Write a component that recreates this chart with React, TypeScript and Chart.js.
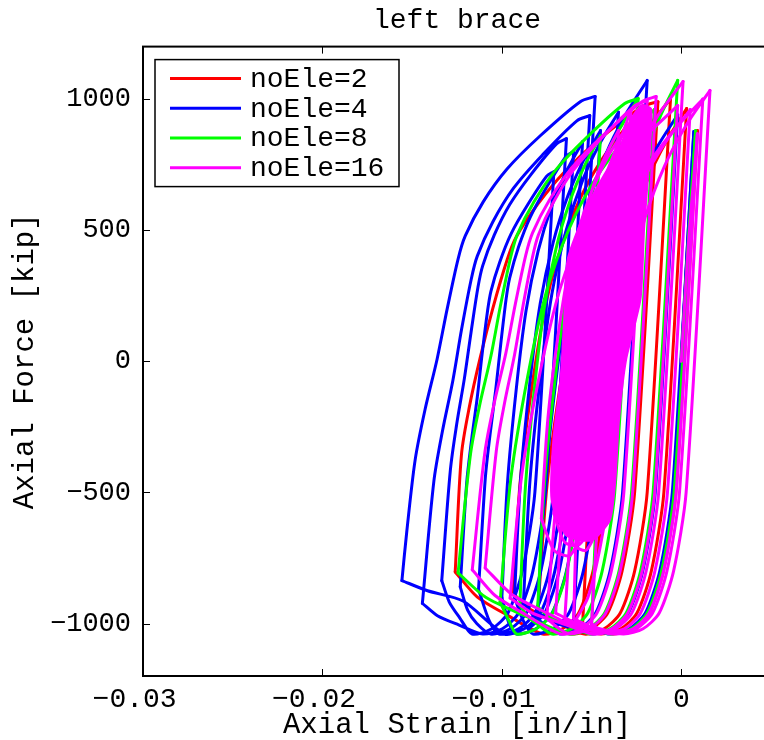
import React, { useEffect, useRef } from 'react';
import { Chart, registerables } from 'chart.js';

Chart.register(...registerables);

const FONT = "'Liberation Mono', 'DejaVu Sans Mono', monospace";

const chartTitle = 'left brace';
const xAxisTitle = 'Axial Strain [in/in]';
const yAxisTitle = 'Axial Force [kip]';
const xTicks = [-0.03, -0.02, -0.01, 0];
const xTickLabels = ['\u22120.03 ', '\u22120.02 ', '\u22120.01 ', '0'];
const yTicks = [-1000, -500, 0, 500, 1000];
const yTickLabels = ['\u22121000', '\u2212500', '0', '500', '1000'];
const seriesLabels = ['noEle=2', 'noEle=4', 'noEle=8', 'noEle=16'];
const seriesColors = ['#ff0000', '#0000ff', '#00ff00', '#ff00ff'];

// [axial strain, axial force]
const redPoints: [number, number][] = [
  [0, 0], [0.0004, 480], [0.0009, 880],
  [-0.0003, -500], [-0.001, -800], [-0.0018, -960], [-0.0027, -1020], [-0.0038, -1040],
  [-0.00448, -1028], [-0.00508, -1016], [-0.0055, -1000],
  [-0.00509, -509], [-0.00446, -97], [-0.00376, 237], [-0.00289, 493], [-0.0019, 689], [-0.00086, 836], [0.0003, 964],
  [-0.00097, -500], [-0.00167, -800], [-0.00247, -960], [-0.00337, -1020], [-0.00447, -1040],
  [-0.00588, -1016], [-0.00712, -992], [-0.008, -960],
  [-0.00748, -470], [-0.00667, -58], [-0.00578, 275], [-0.00467, 530], [-0.00341, 726], [-0.00208, 873], [-0.0006, 1000],
  [-0.0019, -500], [-0.0026, -800], [-0.0034, -960], [-0.0043, -1020], [-0.0054, -1040],
  [-0.007, -993], [-0.0084, -946], [-0.0094, -884],
  [-0.00895, -438], [-0.00825, -63], [-0.00748, 240], [-0.00652, 472], [-0.00543, 650], [-0.00428, 784], [-0.003, 900],
  [-0.00422, -500], [-0.00492, -800], [-0.00572, -960], [-0.00662, -1020], [-0.00772, -1040],
  [-0.00967, -969], [-0.01138, -898], [-0.0126, -803],
  [-0.01225, -355], [-0.0118, -170], [-0.0112, 16], [-0.0105, 203], [-0.0097, 388], [-0.0092, 474],
  [-0.008, 599], [-0.0065, 723], [-0.0046, 845], [-0.0022, 970], [-0.0013, 990],
  [-0.0026, -500], [-0.0033, -800], [-0.0041, -960], [-0.005, -1020], [-0.0061, -1040], [-0.008, -1000],
];

const bluePoints: [number, number][] = [
  [0, 0], [0.00035, 450], [0.0007, 876],
  [-0.0005, -500], [-0.0012, -800], [-0.002, -960], [-0.0029, -1020], [-0.004, -1040],
  [-0.0048, -1025], [-0.0055, -1010], [-0.006, -990],
  [-0.00559, -507], [-0.00496, -102], [-0.00426, 226], [-0.00339, 477], [-0.0024, 670], [-0.00136, 815], [-0.0002, 940],
  [-0.00145, -500], [-0.00215, -800], [-0.00295, -960], [-0.00385, -1020], [-0.00495, -1040],
  [-0.00617, -1016], [-0.00724, -992], [-0.008, -960],
  [-0.00757, -452], [-0.0069, -26], [-0.00617, 320], [-0.00525, 584], [-0.00422, 787], [-0.00312, 939], [-0.0019, 1071],
  [-0.00327, -500], [-0.00397, -800], [-0.00477, -960], [-0.00567, -1020], [-0.00677, -1040],
  [-0.0076, -1005], [-0.0083, -965], [-0.0088, -920],
  [-0.00843, -452], [-0.00785, -60], [-0.00721, 258], [-0.00641, 501], [-0.00551, 688], [-0.00456, 828], [-0.0035, 950],
  [-0.00476, -500], [-0.00546, -800], [-0.00626, -960], [-0.00716, -1020], [-0.00826, -1040],
  [-0.0088, -990], [-0.0093, -900],
  [-0.00896, -455], [-0.00844, -81], [-0.00786, 221], [-0.00714, 453], [-0.00632, 631], [-0.00546, 764], [-0.0045, 880],
  [-0.0057, -500], [-0.0064, -800], [-0.0072, -960], [-0.0081, -1020], [-0.0092, -1040],
  [-0.0096, -1000], [-0.01, -900],
  [-0.00969, -466], [-0.00919, -101], [-0.00865, 194], [-0.00798, 420], [-0.00721, 594], [-0.0064, 724], [-0.0055, 837],
  [-0.00666, -500], [-0.00736, -800], [-0.00816, -960], [-0.00906, -1020], [-0.01016, -1040],
  [-0.0107, -990], [-0.0113, -870],
  [-0.01093, -452], [-0.01066, -280], [-0.01034, -107], [-0.01006, 67], [-0.00976, 239], [-0.00956, 319],
  [-0.00907, 436], [-0.00841, 551], [-0.0075, 665], [-0.00641, 782], [-0.006, 800],
  [-0.00713, -500], [-0.00783, -800], [-0.00863, -960], [-0.00953, -1020], [-0.01063, -1040],
  [-0.0114, -1000], [-0.0119, -950], [-0.01232, -860],
  [-0.01196, -464], [-0.01169, -301], [-0.01137, -137], [-0.0111, 28], [-0.0108, 191], [-0.01061, 267],
  [-0.01012, 378], [-0.00948, 487], [-0.00858, 595], [-0.0075, 706], [-0.0071, 723],
  [-0.00816, -500], [-0.00886, -800], [-0.00966, -960], [-0.01056, -1020], [-0.01166, -1040],
  [-0.01234, -979], [-0.01293, -918], [-0.01335, -836],
  [-0.01287, -415], [-0.01252, -241], [-0.01209, -66], [-0.01172, 109], [-0.01133, 283], [-0.01107, 364],
  [-0.01042, 482], [-0.00956, 598], [-0.00837, 713], [-0.00694, 830], [-0.0064, 849],
  [-0.00757, -500], [-0.00827, -800], [-0.00907, -960], [-0.00997, -1020], [-0.01107, -1040],
  [-0.01241, -1005], [-0.01359, -970], [-0.01443, -923],
  [-0.01379, -458], [-0.01331, -266], [-0.01273, -73], [-0.01225, 120], [-0.01171, 312], [-0.01137, 401],
  [-0.0105, 532], [-0.00935, 660], [-0.00775, 786], [-0.00582, 917], [-0.0051, 937],
  [-0.00635, -500], [-0.00705, -800], [-0.00785, -960], [-0.00875, -1020], [-0.00985, -1040],
  [-0.01214, -915], [-0.01414, -875], [-0.01557, -836],
  [-0.0153, -650], [-0.01483, -375], [-0.01428, -184], [-0.01361, 8], [-0.01305, 199], [-0.01244, 390],
  [-0.01204, 478], [-0.01104, 608], [-0.0097, 734], [-0.00786, 860], [-0.00563, 990], [-0.0048, 1010],
  [-0.00611, -500], [-0.00681, -800], [-0.00761, -960], [-0.00851, -1020],
];

const greenPoints: [number, number][] = [
  [0, 0], [0.0004, 470], [0.0008, 880],
  [-0.0004, -500], [-0.0011, -800], [-0.0019, -960], [-0.0028, -1020], [-0.0039, -1040],
  [-0.0045, -1030], [-0.005, -1010],
  [-0.00466, -490], [-0.00414, -53], [-0.00356, 301], [-0.00284, 572], [-0.00202, 780], [-0.00116, 936], [-0.0002, 1071],
  [-0.00157, -500], [-0.00227, -800], [-0.00307, -960], [-0.00397, -1020], [-0.00507, -1040],
  [-0.00624, -1009], [-0.00727, -978], [-0.008, -937],
  [-0.00761, -452], [-0.00699, -45], [-0.00632, 285], [-0.00548, 537], [-0.00453, 731], [-0.00352, 876], [-0.0024, 1002],
  [-0.00371, -500], [-0.00441, -800], [-0.00521, -960], [-0.00611, -1020], [-0.00721, -1040],
  [-0.00793, -1007], [-0.00855, -974], [-0.009, -930],
  [-0.00869, -482], [-0.00819, -107], [-0.00765, 198], [-0.00698, 430], [-0.00621, 609], [-0.0054, 744], [-0.0045, 860],
  [-0.00568, -500], [-0.00638, -800], [-0.00718, -960], [-0.00808, -1020], [-0.00918, -1040],
  [-0.0096, -990], [-0.0101, -918],
  [-0.0095, -448], [-0.00855, -54], [-0.00752, 265], [-0.00623, 509], [-0.00477, 697], [-0.00322, 838], [-0.0015, 960],
  [-0.00277, -500], [-0.00347, -800], [-0.00427, -960], [-0.00517, -1020], [-0.00627, -1040],
  [-0.00874, -970], [-0.0109, -900], [-0.01244, -807],
  [-0.01175, -355], [-0.01124, -168], [-0.01061, 20], [-0.01009, 208], [-0.00952, 394], [-0.00915, 481],
  [-0.00821, 608], [-0.00697, 732], [-0.00525, 855], [-0.00317, 982], [-0.0024, 1002],
  [-0.00371, -500], [-0.00441, -800], [-0.00521, -960], [-0.00611, -1020], [-0.00721, -1040], [-0.008, -1000],
];

const magentaPoints: [number, number][] = [
  [0, 0], [0.0004, 450], [0.0009, 868],
  [-0.00029, -500], [-0.00099, -800], [-0.00179, -960], [-0.00269, -1020], [-0.00379, -1040],
  [-0.0044, -1030], [-0.005, -1000],
  [-0.00454, -492], [-0.00381, -65], [-0.00302, 281], [-0.00203, 545], [-0.00091, 748], [0.00028, 901], [0.0016, 1033],
  [0.00027, -500], [-0.00043, -800], [-0.00123, -960], [-0.00213, -1020], [-0.00323, -1040],
  [-0.00474, -1016], [-0.00606, -992], [-0.007, -960],
  [-0.0065, -453], [-0.00572, -28], [-0.00487, 317], [-0.0038, 581], [-0.0026, 783], [-0.00132, 935], [0.0001, 1067],
  [-0.00126, -500], [-0.00196, -800], [-0.00276, -960], [-0.00366, -1020], [-0.00476, -1040],
  [-0.00667, -999], [-0.00835, -958], [-0.00954, -903],
  [-0.00889, -433], [-0.00786, -39], [-0.00674, 280], [-0.00534, 524], [-0.00375, 712], [-0.00207, 853], [-0.0002, 975],
  [-0.00148, -500], [-0.00218, -800], [-0.00298, -960], [-0.00388, -1020], [-0.00498, -1040],
  [-0.00736, -964], [-0.00944, -889], [-0.01093, -788],
  [-0.01031, -342], [-0.00985, -159], [-0.00929, 26], [-0.00882, 212], [-0.0083, 395], [-0.00797, 481],
  [-0.00713, 606], [-0.00601, 729], [-0.00446, 850], [-0.0026, 974], [-0.0019, 994],
  [-0.0032, -500], [-0.0039, -800], [-0.0047, -960], [-0.0056, -1020], [-0.0067, -1040],
  [-0.00868, -966], [-0.01038, -893], [-0.01165, -795],
  [-0.01094, -344], [-0.01042, -158], [-0.00978, 30], [-0.00925, 218], [-0.00867, 404], [-0.00829, 490],
  [-0.00733, 617], [-0.00606, 741], [-0.00431, 864], [-0.00219, 990], [-0.0014, 1010],
  [-0.00271, -500], [-0.00341, -800], [-0.00421, -960], [-0.00511, -1020], [-0.00621, -1040],
  [-0.0068, -1020], [-0.0075, -980],
  [-0.00689, -485], [-0.00593, -69], [-0.00489, 267], [-0.00358, 525], [-0.00211, 723], [-0.00054, 871], [0.0012, 1000],
  [-0.0001, -500], [-0.0008, -800], [-0.0016, -960], [-0.0025, -1020], [-0.0036, -1040],
  [-0.005, -1025], [-0.0065, -990],
  [-0.00601, -502], [-0.00524, -93], [-0.0044, 239], [-0.00335, 492], [-0.00216, 687], [-0.0009, 833], [0.0005, 960],
  [-0.00077, -500], [-0.00147, -800], [-0.00227, -960], [-0.00317, -1020],
  [-0.0045, -1030], [-0.006, -980],
  [-0.00578, -495], [-0.00542, -88], [-0.00504, 242], [-0.00456, 494], [-0.00402, 688], [-0.00344, 834], [-0.0028, 960],
  [-0.004, -400], [-0.0046, -620], [-0.0053, -720], [-0.006, -700], [-0.0064, -600],
  [-0.00616, -225], [-0.00579, 90], [-0.00538, 345], [-0.00487, 540], [-0.00429, 690], [-0.00368, 803], [-0.003, 900],
  [-0.0042, -350], [-0.0049, -600], [-0.0057, -700], [-0.0065, -690], [-0.0071, -580],
  [-0.00685, -215], [-0.00645, 92], [-0.00602, 340], [-0.00548, 530], [-0.00487, 676], [-0.00422, 785], [-0.0035, 880],
  [-0.0047, -350], [-0.0054, -620], [-0.0062, -740], [-0.0071, -720], [-0.0078, -600],
  [-0.00743, -215], [-0.00685, 108], [-0.00621, 370], [-0.00541, 570], [-0.00451, 724], [-0.00356, 840], [-0.0025, 940],
  [-0.0038, -400], [-0.0045, -700], [-0.0052, -900], [-0.006, -1000],
];

// outline of the densely overdrawn noEle=16 cycles
const magentaDenseOutline: [number, number][] = [
  [-0.0034, 811], [-0.0028, 920], [-0.0022, 975], [-0.0017, 960], [-0.0018, 780], [-0.0021, 505],
  [-0.0023, 237], [-0.0031, 8], [-0.0035, -222], [-0.0037, -451], [-0.004, -604], [-0.005, -681],
  [-0.0064, -662], [-0.0072, -528], [-0.0071, -298], [-0.0067, -69], [-0.0065, 161], [-0.0063, 390],
  [-0.005, 620], [-0.0034, 811],
];

const seriesPoints = [redPoints, bluePoints, greenPoints, magentaPoints];
const seriesOrder = [4, 3, 2, 0];

type XY = { x: number; y: number };

// Split a load path into reloading branches (strain and force both rising,
// drawn smooth) and unloading / compression branches, keeping the reversal
// points sharp. Gaps are NaN points.
function splitBranches(pts: [number, number][]) {
  const rising: XY[] = [];
  const other: XY[] = [];
  let cur: 'r' | 'o' | null = null;
  let run: XY[] = [];
  const flush = () => {
    if (run.length > 1) {
      const target = cur === 'r' ? rising : other;
      target.push(...run, { x: NaN, y: NaN });
    }
  };
  for (let i = 0; i < pts.length - 1; i++) {
    const [x0, y0] = pts[i];
    const [x1, y1] = pts[i + 1];
    const t = x1 > x0 && y1 > y0 ? 'r' : 'o';
    if (t !== cur) {
      flush();
      run = [{ x: x0, y: y0 }];
      cur = t;
    }
    run.push({ x: x1, y: y1 });
  }
  flush();
  return { rising, other };
}

const framePlugin = {
  id: 'frameTicks',
  afterDraw(chart: any) {
    const { ctx, chartArea: ca, scales } = chart;
    const xs = scales.x;
    const ys = scales.y;
    ctx.save();
    ctx.strokeStyle = '#000';
    ctx.lineWidth = 1;
    const len = 7;
    xTicks.forEach((v) => {
      const px = Math.round(xs.getPixelForValue(v)) + 0.5;
      ctx.beginPath();
      ctx.moveTo(px, ca.bottom);
      ctx.lineTo(px, ca.bottom - len);
      ctx.moveTo(px, ca.top);
      ctx.lineTo(px, ca.top + len);
      ctx.stroke();
    });
    yTicks.forEach((v) => {
      const py = Math.round(ys.getPixelForValue(v)) + 0.5;
      ctx.beginPath();
      ctx.moveTo(ca.left, py);
      ctx.lineTo(ca.left + len, py);
      ctx.moveTo(ca.right, py);
      ctx.lineTo(ca.right - len, py);
      ctx.stroke();
    });
    ctx.lineWidth = 2;
    ctx.strokeRect(ca.left, ca.top, ca.right - ca.left, ca.bottom - ca.top);

    // legend box
    const x0 = ca.left + 12;
    const y0 = ca.top + 13;
    const w = 244;
    const h = 127;
    ctx.fillStyle = '#fff';
    ctx.fillRect(x0, y0, w, h);
    ctx.lineWidth = 1.5;
    ctx.strokeStyle = '#000';
    ctx.strokeRect(x0, y0, w, h);
    ctx.font = `28px ${FONT}`;
    ctx.textBaseline = 'middle';
    ctx.textAlign = 'left';
    seriesLabels.forEach((lab, i) => {
      const y = y0 + 19 + i * 29.7;
      ctx.strokeStyle = seriesColors[i];
      ctx.lineWidth = 3;
      ctx.beginPath();
      ctx.moveTo(x0 + 15, y);
      ctx.lineTo(x0 + 86, y);
      ctx.stroke();
      ctx.fillStyle = '#000';
      ctx.fillText(lab, x0 + 95, y + 1);
    });
    ctx.restore();
  },
};

function labelFor(ticks: number[], labels: string[], value: number) {
  const i = ticks.findIndex((t) => Math.abs(t - value) < 1e-9);
  return i >= 0 ? labels[i] : '';
}

export default function App() {
  const canvasRef = useRef<HTMLCanvasElement | null>(null);

  useEffect(() => {
    const canvas = canvasRef.current;
    if (!canvas) return;
    const base = {
      showLine: true,
      borderWidth: 3,
      pointRadius: 0,
      pointHoverRadius: 0,
      fill: false,
      spanGaps: false,
      borderJoinStyle: 'round',
      borderCapStyle: 'round',
    };
    const datasets: any[] = [];
    seriesPoints.forEach((pts, i) => {
      const { rising, other } = splitBranches(pts);
      datasets.push({
        ...base,
        label: seriesLabels[i],
        data: rising,
        borderColor: seriesColors[i],
        backgroundColor: seriesColors[i],
        tension: 0.3,
        order: seriesOrder[i],
      });
      datasets.push({
        ...base,
        label: seriesLabels[i],
        data: other,
        borderColor: seriesColors[i],
        backgroundColor: seriesColors[i],
        tension: 0.25,
        order: seriesOrder[i],
      });
    });
    datasets.push({
      ...base,
      label: seriesLabels[3],
      data: magentaDenseOutline.map(([x, y]) => ({ x, y })),
      borderColor: seriesColors[3],
      backgroundColor: seriesColors[3],
      tension: 0.2,
      fill: 'shape',
      order: 1,
    });

    const chart = new Chart(canvas, {
      type: 'scatter',
      data: { datasets },
      options: {
        responsive: false,
        animation: false,
        devicePixelRatio: 1,
        events: [],
        layout: { padding: 0 },
        plugins: {
          legend: { display: false },
          tooltip: { enabled: false },
          title: {
            display: true,
            text: chartTitle,
            fullSize: false,
            color: '#000',
            font: { family: FONT, size: 28, weight: 'normal', lineHeight: 1.2 },
            padding: { top: 4, bottom: 9 },
          },
        },
        scales: {
          x: {
            type: 'linear',
            min: -0.03,
            max: 0.005,
            afterFit: (scale: any) => {
              scale.height = 64;
            },
            afterBuildTicks: (scale: any) => {
              scale.ticks = xTicks.map((v) => ({ value: v }));
            },
            grid: { display: false, drawTicks: false },
            border: { display: false },
            ticks: {
              autoSkip: false,
              maxRotation: 0,
              minRotation: 0,
              padding: 7,
              color: '#000',
              font: { family: FONT, size: 28 },
              callback: (v: any) => labelFor(xTicks, xTickLabels, Number(v)),
            },
            title: {
              display: true,
              text: xAxisTitle,
              color: '#000',
              font: { family: FONT, size: 29, lineHeight: 1.2 },
              padding: { top: 0, bottom: -3 },
            },
          },
          y: {
            type: 'linear',
            min: -1200,
            max: 1200,
            afterFit: (scale: any) => {
              scale.width = 143;
            },
            afterBuildTicks: (scale: any) => {
              scale.ticks = yTicks.map((v) => ({ value: v }));
            },
            grid: { display: false, drawTicks: false },
            border: { display: false },
            ticks: {
              autoSkip: false,
              padding: 12,
              color: '#000',
              font: { family: FONT, size: 27 },
              callback: (v: any) => labelFor(yTicks, yTickLabels, Number(v)),
            },
            title: {
              display: true,
              text: yAxisTitle,
              color: '#000',
              font: { family: FONT, size: 29, lineHeight: 1.2 },
              padding: { top: 8, bottom: 0 },
            },
          },
        },
      },
      plugins: [framePlugin],
    });
    return () => chart.destroy();
  }, []);

  return (
    <div
      style={{
        position: 'fixed',
        left: 0,
        top: 0,
        width: 764,
        height: 740,
        overflow: 'hidden',
        background: '#fff',
      }}
    >
      <canvas
        ref={canvasRef}
        width={771}
        height={740}
        style={{ display: 'block', width: 771, height: 740 }}
      />
    </div>
  );
}
